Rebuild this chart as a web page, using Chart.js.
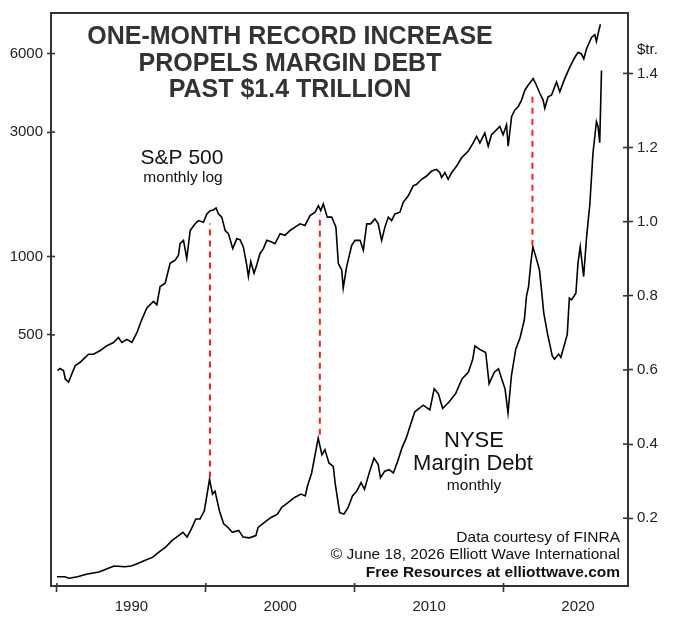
<!DOCTYPE html>
<html>
<head>
<meta charset="utf-8">
<script src="https://cdn.jsdelivr.net/npm/chart.js@4.4.1/dist/chart.umd.min.js"></script>
<style>
html,body{margin:0;padding:0;background:#fff;}
canvas{display:block;}
</style>
</head>
<body>
<canvas id="c" width="676" height="623"></canvas>
<script>
// ---------- DATA (x in the picture's axis years) ----------
const spxYears = [1985.04,1985.2,1985.44,1985.56,1985.78,1986.23,1986.56,1986.9,1987.12,1987.46,1987.91,1988.36,1988.8,1989.13,1989.36,1989.7,1990.03,1990.37,1990.7,1991.04,1991.48,1991.71,1991.93,1992.27,1992.6,1992.94,1993.16,1993.27,1993.5,1993.72,1993.95,1994.28,1994.5,1994.84,1995.07,1995.29,1995.51,1995.69,1995.85,1996.07,1996.3,1996.52,1996.81,1997.08,1997.3,1997.52,1997.75,1997.86,1998.02,1998.24,1998.42,1998.64,1998.87,1999.09,1999.43,1999.65,1999.99,2000.32,2000.66,2000.99,2001.33,2001.66,2002.0,2002.34,2002.56,2002.72,2002.89,2003.16,2003.46,2003.74,2003.9,2004.13,2004.23,2004.46,2004.8,2005.02,2005.36,2005.58,2005.81,2006.07,2006.36,2006.58,2006.81,2007.03,2007.26,2007.48,2007.7,2008.04,2008.26,2008.6,2008.93,2009.16,2009.5,2009.83,2010.17,2010.5,2010.72,2010.84,2011.06,2011.28,2011.51,2011.85,2012.18,2012.62,2012.96,2013.19,2013.41,2013.74,2013.97,2014.19,2014.53,2014.75,2014.97,2015.2,2015.31,2015.54,2015.76,2015.98,2016.21,2016.43,2016.65,2016.99,2017.21,2017.44,2017.66,2017.77,2017.99,2018.22,2018.56,2018.78,2019.11,2019.45,2019.79,2020.01,2020.23,2020.39,2020.57,2020.91,2021.13,2021.24,2021.42,2021.51];
const spxValues = [365,372,365,339,330,382,393,410,422,422,436,455,468,489,468,481,468,510,573,635,673,653,767,790,941,968,1011,1120,1153,983,1258,1334,1373,1354,1456,1499,1508,1535,1456,1415,1258,1223,1072,1170,1160,1088,927,838,957,862,927,1027,1072,1153,1137,1120,1223,1205,1258,1296,1334,1315,1435,1478,1565,1499,1589,1415,1415,1296,941,887,756,914,1104,1153,1153,1057,1334,1334,1394,1334,1153,1296,1415,1373,1456,1478,1613,1708,1865,1892,1977,2035,2126,2158,2096,2007,2096,1977,2096,2221,2390,2531,2725,2886,2725,2973,2646,2929,3061,3151,2929,3198,2646,3438,3645,3752,3978,4341,4535,4808,4535,4217,3978,3700,4094,4155,4668,4277,4808,5321,5806,6065,5981,5725,6249,6917,7083,6678,7441,7774];

const marginYears = [1985.0,1985.52,1985.81,1986.39,1986.97,1987.83,1988.41,1988.84,1989.56,1989.99,1990.43,1991.01,1991.44,1991.87,1992.3,1992.74,1993.17,1993.46,1993.74,1994.03,1994.32,1994.61,1994.9,1995.25,1995.45,1995.62,1995.91,1996.2,1996.49,1996.78,1997.21,1997.5,1997.93,1998.36,1998.51,1998.94,1999.38,1999.81,2000.09,2000.52,2000.96,2001.4,2001.68,2001.83,2002.11,2002.55,2002.8,2003.0,2003.27,2003.56,2003.7,2003.99,2004.28,2004.56,2004.85,2005.14,2005.43,2005.66,2006.01,2006.3,2006.58,2006.73,2007.02,2007.31,2007.6,2007.89,2008.17,2008.46,2008.75,2009.04,2009.33,2009.6,2010.05,2010.34,2010.62,2010.91,2011.35,2011.78,2012.21,2012.64,2012.93,2013.08,2013.37,2013.8,2014.03,2014.38,2014.66,2014.95,2015.1,2015.3,2015.53,2015.82,2016.11,2016.4,2016.54,2016.68,2016.83,2016.97,2017.2,2017.41,2017.55,2017.7,2017.98,2018.13,2018.27,2018.42,2018.7,2018.85,2019.13,2019.28,2019.42,2019.57,2019.86,2020.0,2020.15,2020.38,2020.58,2020.73,2020.79,2021.01,2021.24,2021.35,2021.46,2021.58];
const marginValues = [0.042,0.042,0.038,0.042,0.049,0.055,0.064,0.071,0.069,0.071,0.078,0.088,0.095,0.109,0.122,0.140,0.153,0.162,0.149,0.171,0.198,0.198,0.220,0.305,0.265,0.273,0.220,0.185,0.175,0.162,0.167,0.149,0.147,0.153,0.175,0.189,0.202,0.211,0.229,0.242,0.256,0.265,0.260,0.287,0.322,0.416,0.371,0.385,0.349,0.340,0.291,0.215,0.211,0.229,0.260,0.273,0.296,0.278,0.327,0.362,0.345,0.309,0.327,0.331,0.322,0.354,0.389,0.416,0.452,0.487,0.496,0.505,0.492,0.549,0.536,0.496,0.514,0.536,0.576,0.594,0.629,0.665,0.656,0.647,0.563,0.594,0.603,0.567,0.549,0.484,0.585,0.656,0.687,0.736,0.799,0.825,0.888,0.932,0.901,0.870,0.816,0.754,0.692,0.665,0.638,0.629,0.643,0.634,0.674,0.696,0.794,0.789,0.807,0.888,0.932,0.852,0.959,1.021,1.043,1.186,1.270,1.257,1.213,1.408];

// red dashed connectors: margin-debt peaks (right axis, $tr.)
const peakYears = [1995.28, 2002.66, 2016.94];
const peakTop = [0.995, 1.02, 1.35];
const peakBottom = [0.31, 0.425, 0.935];

const spxTicks = [500, 1000, 3000, 6000];
const marginTicks = [0.2, 0.4, 0.6, 0.8, 1.0, 1.2, 1.4];
const yearTicks = [1985, 1990, 1995, 2000, 2005, 2010, 2015, 2020];

// ---------- CHART ----------
const FONT = '"Liberation Sans", Arial, Helvetica, sans-serif';
const AXIS = '#333333';

const spxData = spxYears.map((x, i) => ({x, y: spxValues[i]}));
const marginData = marginYears.map((x, i) => ({x, y: marginValues[i]}));

const datasets = peakYears.map((x, i) => ({
  data: [{x, y: peakBottom[i]}, {x, y: peakTop[i]}],
  yAxisID: 'yM', borderColor: '#ff1e1e', borderWidth: 2, borderDash: [6, 5],
  pointRadius: 0, fill: false
}));
datasets.push({data: spxData, yAxisID: 'yS', borderColor: '#000', borderWidth: 1.6, pointRadius: 0, tension: 0, fill: false});
datasets.push({data: marginData, yAxisID: 'yM', borderColor: '#000', borderWidth: 1.6, pointRadius: 0, tension: 0, fill: false});

const decor = {
  id: 'decor',
  afterDraw(chart) {
    const ctx = chart.ctx, a = chart.chartArea;
    ctx.save();
    // frame
    ctx.strokeStyle = AXIS; ctx.lineWidth = 2;
    ctx.strokeRect(a.left, a.top, a.right - a.left, a.bottom - a.top);
    // inward tick stubs
    ctx.lineWidth = 1.6;
    const ys = chart.scales.yS, ym = chart.scales.yM, xs = chart.scales.x;
    ys.ticks.forEach(t => { const p = ys.getPixelForValue(t.value); ctx.beginPath(); ctx.moveTo(a.left, p); ctx.lineTo(a.left + 4, p); ctx.stroke(); });
    ym.ticks.forEach(t => { const p = ym.getPixelForValue(t.value); ctx.beginPath(); ctx.moveTo(a.right, p); ctx.lineTo(a.right - 5, p); ctx.stroke(); });
    xs.ticks.forEach(t => { if (t.value % 10 !== 5) return; const p = xs.getPixelForValue(t.value); ctx.beginPath(); ctx.moveTo(p, a.bottom); ctx.lineTo(p, a.bottom - 3); ctx.stroke(); });

    ctx.textAlign = 'center'; ctx.textBaseline = 'middle';
    // title
    ctx.fillStyle = '#333333';
    ctx.font = 'bold 25px ' + FONT;
    ctx.fillText('ONE-MONTH RECORD INCREASE', 290, 37);
    ctx.fillText('PROPELS MARGIN DEBT', 290, 64);
    ctx.fillText('PAST $1.4 TRILLION', 290, 90);
    // series labels
    ctx.fillStyle = '#111';
    ctx.font = '21px ' + FONT;
    ctx.fillText('S&P 500', 182, 158);
    ctx.font = '15.5px ' + FONT;
    ctx.fillText('monthly log', 183, 178);
    ctx.font = '22px ' + FONT;
    ctx.fillText('NYSE', 474, 441);
    ctx.fillText('Margin Debt', 473, 464);
    ctx.font = '15.5px ' + FONT;
    ctx.fillText('monthly', 474, 486);
    // credits
    ctx.textAlign = 'right';
    ctx.font = '15.5px ' + FONT;
    ctx.fillText('Data courtesy of FINRA', 620, 538);
    ctx.fillText('\u00A9 June 18, 2026 Elliott Wave International', 620, 555);
    ctx.font = 'bold 15.5px ' + FONT;
    ctx.fillText('Free Resources at elliottwave.com', 620, 573);
    // unit label
    ctx.textAlign = 'left';
    ctx.font = '15px ' + FONT;
    ctx.fillText('$tr.', 637, 50);
    ctx.restore();
  }
};

new Chart(document.getElementById('c'), {
  type: 'line',
  data: {datasets},
  plugins: [decor],
  options: {
    responsive: false, animation: false, devicePixelRatio: 1,
    layout: {padding: {top: 7, left: 0, right: 0, bottom: 0}},
    plugins: {legend: {display: false}, tooltip: {enabled: false}},
    scales: {
      x: {
        type: 'linear', position: 'bottom', min: 1984.6, max: 2023.36,
        afterBuildTicks: s => { s.ticks = yearTicks.map(v => ({value: v})); },
        afterFit: s => { s.height = 37; },
        border: {display: false},
        grid: {drawOnChartArea: false, drawTicks: true, tickLength: 6, tickWidth: 1.6,
               tickColor: c => (c.tick && c.tick.value % 10 === 5) ? AXIS : 'rgba(0,0,0,0)'},
        ticks: {autoSkip: false, maxRotation: 0, padding: 6, color: '#222', font: {family: FONT, size: 15},
                callback: v => (v % 10 === 0 ? String(v) : '')}
      },
      yS: {
        type: 'logarithmic', position: 'left', min: 54.5, max: 8583,
        afterBuildTicks: s => { s.ticks = spxTicks.map(v => ({value: v})); },
        afterFit: s => { s.width = 51; },
        border: {display: false},
        grid: {drawOnChartArea: false, drawTicks: true, tickLength: 4, tickWidth: 1.6, tickColor: AXIS},
        ticks: {padding: 4, color: '#222', font: {family: FONT, size: 15}, callback: v => String(v)}
      },
      yM: {
        type: 'linear', position: 'right', min: 0.0171, max: 1.563,
        afterBuildTicks: s => { s.ticks = marginTicks.map(v => ({value: v})); },
        afterFit: s => { s.width = 48; },
        border: {display: false},
        grid: {drawOnChartArea: false, drawTicks: true, tickLength: 5, tickWidth: 1.6, tickColor: AXIS},
        ticks: {padding: 4, color: '#222', font: {family: FONT, size: 15}, callback: v => v.toFixed(1)}
      }
    }
  }
});
</script>
</body>
</html>
